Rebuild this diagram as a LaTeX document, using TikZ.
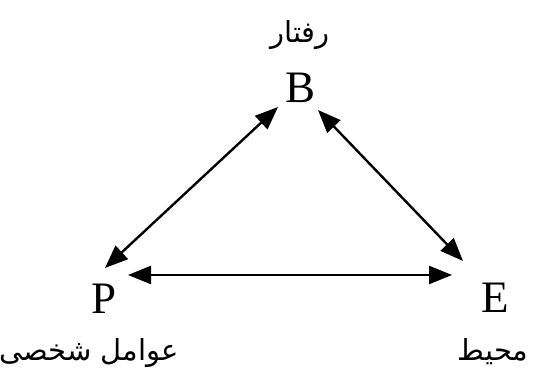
\documentclass[tikz,border=0pt]{standalone}
\usepackage{fontspec}
\setmainfont{Liberation Serif}
\newfontfamily\arabicfont[Script=Arabic]{DejaVu Sans}
\TeXXeTstate=1
\usetikzlibrary{arrows.meta, positioning, calc}

\tikzset{
  letter/.style={font=\fontsize{45}{48}\selectfont, inner sep=0pt},
  falabel/.style={font=\arabicfont\fontsize{29}{33}\selectfont, anchor=base, inner sep=0pt},
  twoway/.style={{Triangle[length=23pt,width=18pt]}-{Triangle[length=23pt,width=18pt]}, line width=2.4pt}
}

\begin{document}
\begin{tikzpicture}[x=1pt, y=1pt]
\useasboundingbox (0,0) rectangle (538,379);
% the three letters
\node[letter] (B) at (301,291) {B};
\node[letter] (P) at (104,80) {P};
\node[letter] (E) at (495,81) {E};
% persian labels
\node[falabel] (behavior) at (300,336) {\beginR رفتار\endR};
\node[falabel] (personal) at (89,18) {\beginR عوامل شخصی\endR};
\node[falabel] (environment) at (493,18) {\beginR محیط\endR};
% two-way links
\draw[twoway] ([shift={(-23,-19)}]B.center) -- ([shift={(1,31)}]P.center);
\draw[twoway] ([shift={(17,-22)}]B.center) -- ([shift={(-32,37)}]E.center);
\draw[twoway] ([shift={(24,24)}]P.center) -- ([shift={(-43,23)}]E.center);
\end{tikzpicture}
\end{document}
